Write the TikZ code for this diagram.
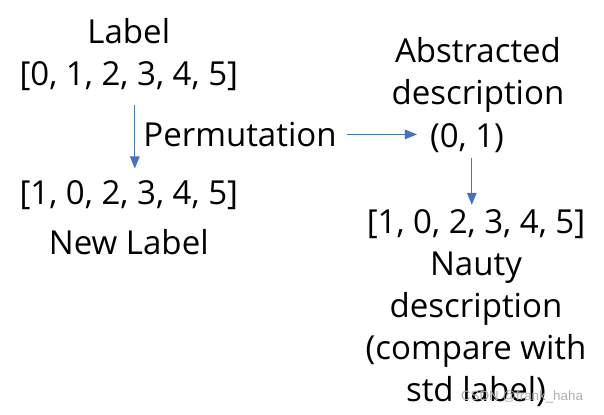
\documentclass[tikz,border=0pt]{standalone}
\usepackage{fontspec}
\setmainfont{Open Sans}
\setsansfont{Liberation Sans}
\usepackage{xcolor}
\definecolor{arblue}{RGB}{68,114,196}
\definecolor{wmgray}{RGB}{175,175,175}
\usetikzlibrary{arrows.meta,positioning}

\begin{document}
\begin{tikzpicture}[
  txt/.style={align=center,inner sep=0pt,font=\fontsize{23.5pt}{30pt}\selectfont},
  edge/.style={-{Triangle[length=0.3cm,width=0.24cm]},line width=0.7pt,arblue}]
  \useasboundingbox (0,0) rectangle (15.1,10.35);
  % Label
  \node[txt] (lab) at (3.22,8.99) {Label\\{[0, 1, 2, 3, 4, 5]}};
  \node[txt] (newlab) at (3.22,4.9) {{[1, 0, 2, 3, 4, 5]}\\[0.2cm]New Label};
  \draw[edge] ([xshift=0.15cm,yshift=-0.35cm]lab.south) -- ([xshift=0.15cm,yshift=0.3cm]newlab.north);
  % Permutation
  \node[txt] (perm) at (6.0,6.99) {Permutation};
  \node[txt] (absl) at (11.95,8.475) {Abstracted\\description};
  \node[txt] (abs) at (11.675,6.9) {(0, 1)};
  \draw[edge] ([xshift=0.25cm]perm.east) -- ([xshift=-0.32cm]abs.west |- perm.east);
  % Nauty
  \node[txt] (nauty) at (11.9,2.65) {{[1, 0, 2, 3, 4, 5]}\\Nauty\\description\\(compare with\\std label)};
  \draw[edge] ([xshift=0.12cm,yshift=-0.12cm]abs.south) -- ([xshift=0.12cm,yshift=0.1cm]abs.south |- nauty.north);
  % watermark
  \node[font=\sffamily\fontsize{9.5pt}{10pt}\selectfont,wmgray,inner sep=0pt] (wm) at (13.05,0.42) {CSDN @frank\_haha};
\end{tikzpicture}
\end{document}
